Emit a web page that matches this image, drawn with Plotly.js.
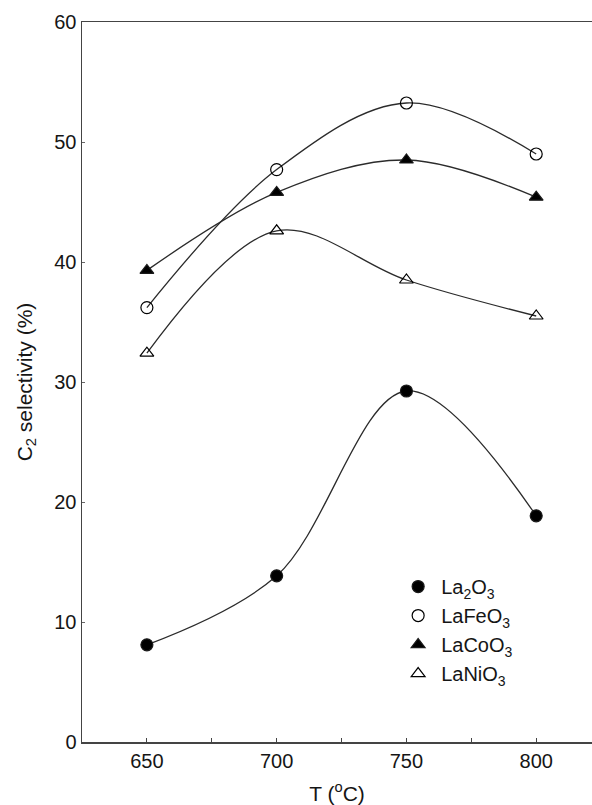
<!DOCTYPE html>
<html>
<head>
<meta charset="utf-8">
<script src="https://cdn.plot.ly/plotly-3.0.1.min.js"></script>
<style>
  html, body { margin: 0; padding: 0; background: #fff; overflow: hidden; }
  #chart { width: 592px; height: 805px; }
</style>
</head>
<body>
<div id="chart"></div>
<script>
// Temperatures (°C)
const temperatures = [650, 700, 750, 800];

// C2 selectivity (%) per catalyst
const la2o3  = [8.1, 13.85, 29.25, 18.85];
const lafeo3 = [36.2, 47.7, 53.25, 49.0];
const lacoo3 = [39.3, 45.8, 48.5, 45.4];
const lanio3 = [32.4, 42.6, 38.5, 35.5];

const seriesNames = [
  'La<sub>2</sub>O<sub>3</sub>',
  'LaFeO<sub>3</sub>',
  'LaCoO<sub>3</sub>',
  'LaNiO<sub>3</sub>'
];

const xTickVals = [650, 700, 750, 800];
const yTickVals = [0, 10, 20, 30, 40, 50, 60];

const seriesValues = [la2o3, lafeo3, lacoo3, lanio3];
const symbols = ['circle', 'circle-open', 'triangle-up', 'triangle-up-open'];

const lineTraces = seriesValues.map((vals, i) => ({
  x: temperatures,
  y: vals,
  type: 'scatter',
  mode: 'lines',
  line: { shape: 'spline', smoothing: 1, color: '#2b2b2b', width: 1.3 },
  showlegend: false,
  hoverinfo: 'skip',
  legendgroup: 'g' + i
}));

const markerTraces = seriesValues.map((vals, i) => ({
  x: temperatures,
  y: vals,
  type: 'scatter',
  mode: 'markers',
  name: seriesNames[i],
  legendgroup: 'g' + i,
  marker: {
    symbol: symbols[i],
    size: 12,
    color: '#000',
    line: { color: '#1a1a1a', width: 1.2 }
  }
}));

const fam = 'Liberation Sans, Arial, sans-serif';
const ink = '#151515';

const layout = {
  width: 592,
  height: 805,
  margin: { l: 82, r: 0, t: 22, b: 63 },
  paper_bgcolor: '#fff',
  plot_bgcolor: '#fff',
  font: { family: fam, size: 20, color: ink },
  showlegend: true,
  legend: {
    x: 0.614, y: 0.243, xanchor: 'left', yanchor: 'top',
    bgcolor: 'rgba(0,0,0,0)',
    font: { family: fam, size: 20, color: ink },
    tracegroupgap: 0,
    itemwidth: 36
  },
  xaxis: {
    range: [625, 821.5],
    tickvals: xTickVals,
    ticktext: xTickVals.map(String),
    ticks: 'inside',
    ticklen: 4,
    tickwidth: 1.2,
    tickcolor: '#444',
    minor: { dtick: 25, tick0: 650, ticks: 'inside', ticklen: 4, tickwidth: 1.2, tickcolor: '#444' },
    showline: true,
    linecolor: '#444',
    linewidth: 1.5,
    mirror: true,
    showgrid: false,
    zeroline: false,
    tickfont: { size: 20 },
    title: { text: 'T (<sup>o</sup>C)', font: { size: 21 }, standoff: 16 }
  },
  yaxis: {
    range: [0, 60],
    tickvals: yTickVals,
    ticktext: yTickVals.map(String),
    ticks: 'inside',
    ticklen: 3,
    tickwidth: 1,
    tickcolor: '#666',
    showline: true,
    linecolor: '#444',
    linewidth: 1.5,
    mirror: false,
    showgrid: false,
    zeroline: false,
    tickfont: { size: 20 },
    title: { text: 'C<sub>2</sub> selectivity (%)', font: { size: 21 }, standoff: 16 }
  }
};

Plotly.newPlot('chart', lineTraces.concat(markerTraces), layout, { displayModeBar: false, staticPlot: true });
</script>
</body>
</html>
